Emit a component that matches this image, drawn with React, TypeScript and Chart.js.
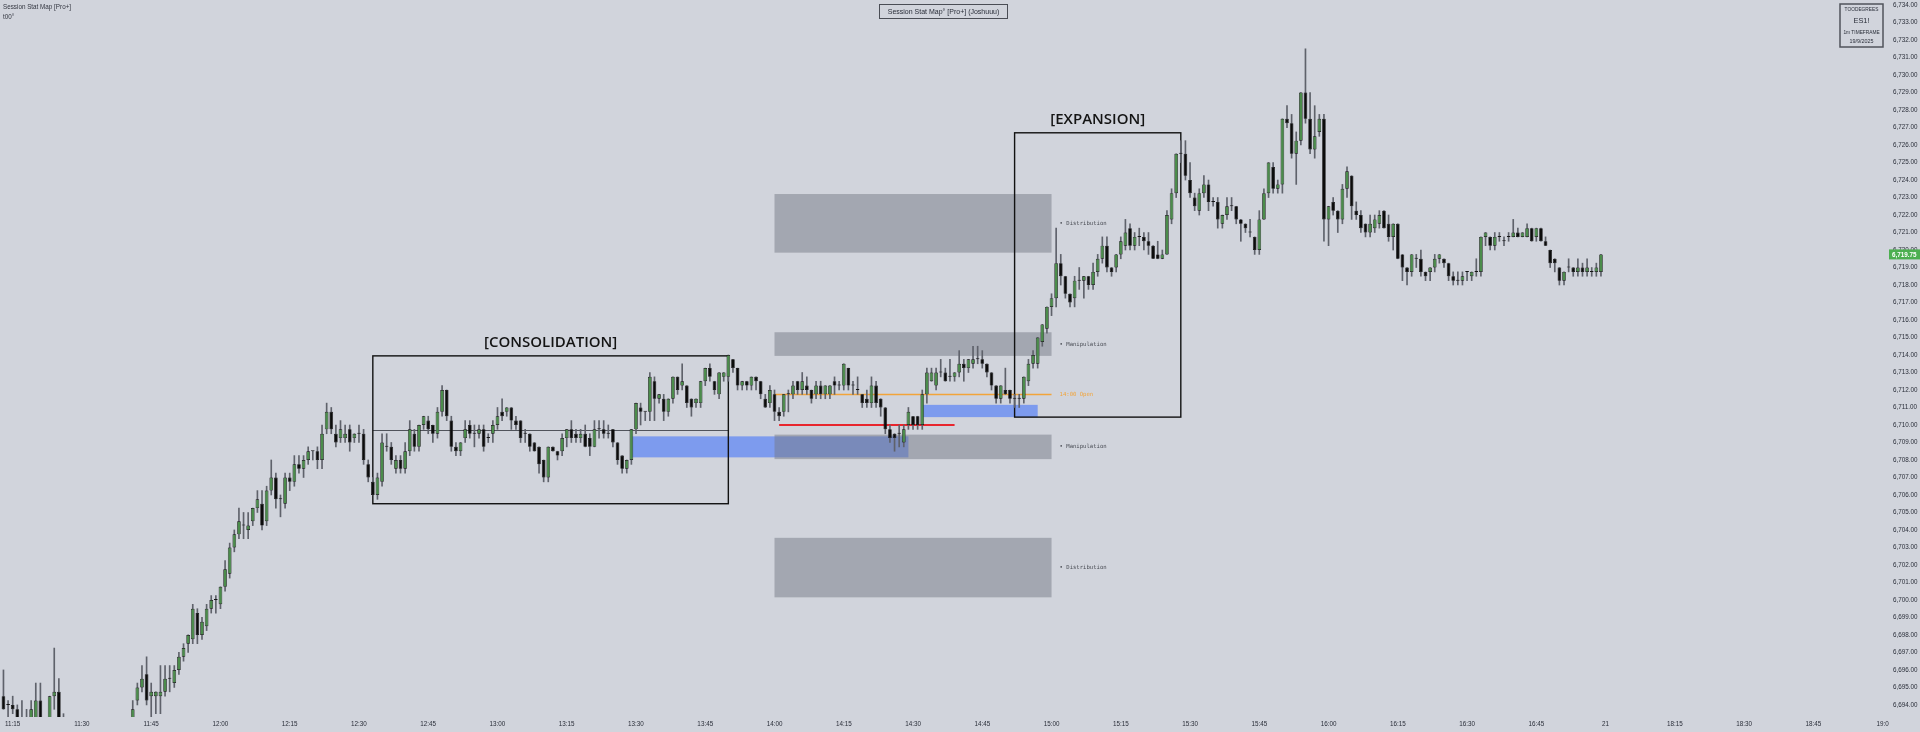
import React, { useEffect, useRef } from "react";
import { Chart, registerables } from "chart.js";

Chart.register(...registerables);

// ---------- DATA ----------
const TIMES = [
  "11:13","11:14","11:15","11:16","11:17","11:18","11:19","11:20","11:21","11:22",
  "11:23","11:24","11:25","11:26",
  "11:41","11:42","11:43","11:44","11:45","11:46","11:47","11:48","11:49","11:50",
  "11:51","11:52","11:53","11:54","11:55","11:56","11:57","11:58","11:59","12:00",
  "12:01","12:02","12:03","12:04","12:05","12:06","12:07","12:08","12:09","12:10",
  "12:11","12:12","12:13","12:14","12:15","12:16","12:17","12:18","12:19","12:20",
  "12:21","12:22","12:23","12:24","12:25","12:26","12:27","12:28","12:29","12:30",
  "12:31","12:32","12:33","12:34","12:35","12:36","12:37","12:38","12:39","12:40",
  "12:41","12:42","12:43","12:44","12:45","12:46","12:47","12:48","12:49","12:50",
  "12:51","12:52","12:53","12:54","12:55","12:56","12:57","12:58","12:59","13:00",
  "13:01","13:02","13:03","13:04","13:05","13:06","13:07","13:08","13:09","13:10",
  "13:11","13:12","13:13","13:14","13:15","13:16","13:17","13:18","13:19","13:20",
  "13:21","13:22","13:23","13:24","13:25","13:26","13:27","13:28","13:29","13:30",
  "13:31","13:32","13:33","13:34","13:35","13:36","13:37","13:38","13:39","13:40",
  "13:41","13:42","13:43","13:44","13:45","13:46","13:47","13:48","13:49","13:50",
  "13:51","13:52","13:53","13:54","13:55","13:56","13:57","13:58","13:59","14:00",
  "14:01","14:02","14:03","14:04","14:05","14:06","14:07","14:08","14:09","14:10",
  "14:11","14:12","14:13","14:14","14:15","14:16","14:17","14:18","14:19","14:20",
  "14:21","14:22","14:23","14:24","14:25","14:26","14:27","14:28","14:29","14:30",
  "14:31","14:32","14:33","14:34","14:35","14:36","14:37","14:38","14:39","14:40",
  "14:41","14:42","14:43","14:44","14:45","14:46","14:47","14:48","14:49","14:50",
  "14:51","14:52","14:53","14:54","14:55","14:56","14:57","14:58","14:59","15:00",
  "15:01","15:02","15:03","15:04","15:05","15:06","15:07","15:08","15:09","15:10",
  "15:11","15:12","15:13","15:14","15:15","15:16","15:17","15:18","15:19","15:20",
  "15:21","15:22","15:23","15:24","15:25","15:26","15:27","15:28","15:29","15:30",
  "15:31","15:32","15:33","15:34","15:35","15:36","15:37","15:38","15:39","15:40",
  "15:41","15:42","15:43","15:44","15:45","15:46","15:47","15:48","15:49","15:50",
  "15:51","15:52","15:53","15:54","15:55","15:56","15:57","15:58","15:59","16:00",
  "16:01","16:02","16:03","16:04","16:05","16:06","16:07","16:08","16:09","16:10",
  "16:11","16:12","16:13","16:14","16:15","16:16","16:17","16:18","16:19","16:20",
  "16:21","16:22","16:23","16:24","16:25","16:26","16:27","16:28","16:29","16:30",
  "16:31","16:32","16:33","16:34","16:35","16:36","16:37","16:38","16:39","16:40",
  "16:41","16:42","16:43","16:44","16:45","16:46","16:47","16:48","16:49","16:50",
  "16:51","16:52","16:53","16:54","16:55","16:56","16:57","16:58","16:59",
];

const OPEN = [
  6694.5,6694.0,6694.0,6693.75,6692.75,6692.5,6692.75,6693.0,6694.25,6693.0,
  6693.0,6694.5,6694.75,6692.75,
  6693.0,6694.25,6695.0,6695.75,6694.5,6694.5,6694.5,6694.75,6695.5,6695.25,
  6696.0,6696.75,6697.5,6697.75,6699.25,6698.0,6698.5,6699.5,6700.0,6699.75,
  6700.75,6701.5,6703.0,6703.75,6704.25,6704.0,6704.5,6705.25,6705.5,6704.5,
  6706.25,6707.0,6705.75,6705.5,6707.0,6706.75,6707.75,6707.5,6708.0,6708.5,
  6708.5,6708.0,6709.75,6710.75,6709.5,6709.25,6709.25,6709.75,6709.25,6709.5,
  6709.5,6707.75,6706.75,6706.0,6706.75,6708.75,6708.75,6707.5,6708.0,6707.5,
  6708.5,6709.5,6708.75,6710.0,6710.25,6710.0,6709.5,6710.75,6712.0,6710.25,
  6708.75,6708.5,6709.25,6710.0,6709.5,6709.5,6709.75,6709.25,6709.5,6710.0,
  6710.75,6710.75,6711.0,6710.25,6710.25,6709.5,6709.5,6709.0,6708.75,6708.0,
  6707.0,6708.75,6708.5,6708.5,6709.25,6709.75,6709.5,6709.25,6709.5,6709.25,
  6708.75,6709.75,6709.75,6709.5,6709.75,6709.0,6708.25,6707.5,6708.0,6709.75,
  6711.0,6710.75,6710.75,6712.5,6711.5,6711.5,6710.75,6711.5,6712.75,6712.25,
  6712.25,6711.5,6711.25,6711.25,6712.5,6713.25,6712.5,6711.75,6712.75,6712.75,
  6713.75,6713.25,6712.25,6712.5,6712.25,6712.75,6712.5,6711.5,6711.25,6711.75,
  6710.75,6710.75,6711.75,6711.75,6712.5,6712.0,6712.25,6712.0,6711.75,6712.25,
  6711.75,6711.75,6712.5,6712.25,6712.25,6713.25,6712.25,6712.0,6711.75,6711.5,
  6711.25,6712.25,6711.5,6711.0,6709.75,6709.5,6709.5,6709.0,6710.0,6710.5,
  6710.5,6710.0,6711.75,6712.5,6712.25,6713.0,6713.0,6712.75,6712.75,6713.0,
  6713.5,6713.25,6713.5,6713.75,6713.75,6713.5,6713.0,6712.25,6711.5,6712.0,
  6712.0,6711.5,6711.5,6711.5,6712.5,6713.5,6713.5,6714.75,6715.5,6716.75,
  6717.25,6719.25,6718.5,6717.5,6717.25,6718.25,6718.25,6718.5,6718.0,6718.75,
  6719.5,6720.25,6719.0,6719.0,6719.75,6720.25,6721.25,6720.25,6720.75,6720.75,
  6720.5,6720.25,6719.75,6719.5,6719.75,6721.75,6723.25,6725.5,6725.5,6724.0,
  6723.0,6722.25,6723.25,6723.75,6722.75,6722.75,6721.5,6722.0,6722.5,6722.5,
  6721.75,6721.5,6721.0,6720.75,6720.0,6721.75,6723.25,6724.75,6723.5,6723.75,
  6727.5,6727.25,6725.5,6726.25,6729.0,6727.5,6725.75,6726.75,6727.5,6721.75,
  6722.75,6722.25,6721.75,6723.5,6724.25,6722.25,6722.0,6721.5,6721.0,6721.25,
  6721.5,6722.25,6721.5,6720.75,6721.5,6719.75,6719.0,6718.75,6719.5,6719.5,
  6718.75,6718.75,6719.0,6719.5,6719.5,6719.25,6718.5,6718.25,6718.25,6718.75,
  6718.5,6718.75,6718.75,6720.75,6720.75,6720.25,6720.75,6720.5,6720.75,6720.75,
  6721.0,6720.75,6720.75,6721.25,6720.75,6721.25,6720.5,6720.0,6719.5,6719.0,
  6718.25,6719.0,6719.0,6718.75,6719.0,6718.75,6718.75,6718.75,6718.75,
];

const HIGH = [
  6696.0,6694.25,6694.5,6694.0,6694.25,6693.75,6694.25,6695.25,6695.25,6693.25,
  6694.5,6697.25,6695.5,6693.5,
  6694.25,6695.25,6696.25,6696.75,6695.25,6694.75,6696.25,6696.25,6696.25,6696.25,
  6697.0,6697.5,6698.0,6699.75,6699.5,6699.0,6699.75,6700.25,6700.25,6700.75,
  6702.25,6703.25,6704.0,6705.25,6705.0,6705.0,6705.25,6706.25,6706.25,6706.5,
  6708.0,6707.25,6706.0,6707.25,6707.25,6708.25,6708.25,6708.25,6708.75,6708.5,
  6708.75,6710.0,6711.25,6711.0,6710.0,6710.25,6710.0,6710.0,6709.5,6710.0,
  6709.75,6708.0,6707.0,6707.25,6709.5,6709.5,6709.0,6708.25,6708.25,6709.0,
  6710.25,6709.75,6710.0,6710.5,6710.5,6710.0,6711.0,6712.25,6712.0,6710.5,
  6709.0,6709.0,6710.25,6710.25,6710.0,6710.0,6710.0,6709.5,6710.25,6711.0,
  6711.5,6711.0,6711.0,6710.5,6710.25,6709.75,6709.5,6709.0,6708.75,6708.0,
  6708.75,6708.75,6708.5,6709.5,6709.75,6710.25,6709.75,6709.75,6710.0,6709.5,
  6710.25,6710.25,6710.25,6710.0,6709.75,6709.0,6708.25,6708.0,6709.75,6711.25,
  6711.25,6710.75,6713.0,6712.75,6711.75,6711.75,6711.5,6712.75,6712.75,6713.5,
  6712.25,6711.5,6711.5,6712.5,6713.25,6713.5,6712.5,6713.0,6713.0,6714.0,
  6713.75,6713.25,6712.5,6712.5,6712.75,6712.75,6712.5,6711.75,6712.25,6712.0,
  6711.0,6711.75,6712.0,6712.5,6712.5,6713.0,6712.75,6712.0,6712.5,6712.5,
  6712.25,6712.25,6712.75,6712.5,6713.5,6713.25,6712.5,6712.75,6711.75,6712.0,
  6712.75,6712.5,6711.5,6711.0,6710.0,6709.5,6710.0,6710.0,6711.0,6710.5,
  6710.5,6712.0,6713.25,6713.25,6713.25,6713.75,6713.25,6713.75,6713.0,6714.25,
  6713.75,6713.75,6714.5,6714.5,6714.25,6713.5,6713.0,6712.25,6712.25,6713.25,
  6712.0,6711.75,6711.75,6712.75,6713.75,6714.25,6715.0,6715.75,6716.75,6717.5,
  6721.25,6719.75,6718.5,6717.5,6718.5,6719.0,6718.5,6718.5,6719.25,6719.75,
  6720.75,6720.75,6719.0,6719.75,6720.75,6721.75,6721.5,6721.0,6721.25,6721.0,
  6721.0,6720.25,6720.5,6720.0,6722.25,6723.5,6725.5,6726.25,6726.25,6725.0,
  6723.25,6723.5,6724.25,6724.0,6723.0,6723.0,6722.0,6723.0,6723.0,6722.5,
  6721.75,6721.5,6721.75,6720.75,6722.25,6723.5,6725.0,6725.0,6724.0,6727.5,
  6728.25,6727.75,6726.75,6729.0,6731.5,6729.0,6728.25,6727.75,6727.75,6722.5,
  6723.0,6722.25,6723.75,6724.75,6724.25,6722.75,6722.25,6721.5,6722.0,6722.0,
  6722.25,6722.25,6722.0,6721.5,6721.5,6719.75,6719.0,6719.75,6719.75,6720.0,
  6718.75,6719.0,6719.75,6719.75,6719.5,6719.25,6718.75,6718.75,6718.75,6718.75,
  6718.75,6719.5,6720.75,6721.0,6720.75,6721.0,6721.0,6720.75,6721.0,6721.75,
  6721.25,6721.0,6721.5,6721.25,6721.25,6721.25,6720.75,6720.0,6719.5,6719.0,
  6718.75,6719.5,6719.0,6719.5,6719.25,6719.5,6719.0,6719.25,6719.75,
];

const LOW = [
  6693.75,6693.0,6693.5,6692.5,6692.5,6692.25,6692.5,6692.75,6692.75,6692.5,
  6692.75,6693.75,6693.0,6692.5,
  6692.75,6694.0,6694.75,6694.0,6693.25,6693.5,6693.5,6694.5,6694.75,6695.0,
  6695.75,6696.5,6697.0,6697.5,6697.5,6697.75,6698.25,6699.25,6699.25,6699.5,
  6700.5,6701.25,6702.75,6703.5,6703.5,6703.5,6704.25,6705.0,6704.0,6704.25,
  6706.0,6705.25,6704.75,6705.25,6706.25,6706.5,6707.25,6707.0,6707.75,6708.0,
  6707.5,6707.5,6709.5,6709.5,6708.75,6709.0,6709.0,6708.5,6709.0,6709.0,
  6707.75,6706.75,6706.0,6705.75,6706.5,6708.5,6707.75,6707.25,6707.25,6707.25,
  6708.25,6708.5,6708.5,6709.75,6709.5,6709.0,6709.25,6710.5,6710.25,6708.5,
  6708.25,6708.25,6709.0,6709.25,6708.75,6709.25,6708.5,6709.0,6709.0,6709.75,
  6710.25,6710.5,6709.75,6709.75,6709.0,6709.0,6708.5,6708.5,6707.25,6706.75,
  6706.75,6708.5,6708.0,6708.25,6708.75,6709.0,6709.0,6709.0,6708.75,6708.25,
  6708.75,6709.25,6709.25,6709.25,6708.75,6707.75,6707.25,6707.25,6707.75,6709.5,
  6710.0,6710.25,6710.25,6710.25,6711.25,6710.25,6710.5,6711.25,6711.75,6712.0,
  6711.0,6710.5,6711.0,6711.0,6712.25,6712.5,6711.75,6711.5,6712.5,6712.5,
  6713.0,6712.0,6712.0,6712.0,6712.0,6712.0,6711.5,6711.0,6711.0,6710.25,
  6710.25,6710.5,6710.75,6711.5,6711.75,6711.75,6711.75,6711.25,6711.5,6711.5,
  6711.5,6711.5,6711.75,6712.0,6712.0,6712.0,6711.75,6711.75,6711.0,6711.0,
  6711.0,6711.0,6710.5,6709.5,6709.0,6708.5,6708.75,6708.75,6709.75,6709.75,
  6709.75,6709.75,6711.25,6712.5,6712.0,6712.75,6712.5,6712.5,6712.5,6712.75,
  6712.5,6713.0,6713.25,6713.5,6713.25,6712.75,6712.0,6711.25,6711.25,6711.75,
  6711.25,6711.0,6711.0,6711.25,6712.25,6713.25,6713.25,6714.5,6715.25,6716.25,
  6716.75,6718.0,6717.25,6716.75,6716.75,6717.75,6717.25,6717.75,6717.75,6718.5,
  6719.25,6718.75,6718.5,6718.75,6719.5,6720.0,6720.0,6720.0,6720.25,6720.0,
  6719.75,6719.5,6719.5,6719.5,6719.75,6721.5,6723.0,6725.0,6724.0,6723.0,
  6722.25,6722.0,6723.0,6722.25,6722.5,6721.25,6721.25,6721.75,6722.25,6721.5,
  6720.5,6721.0,6720.75,6719.75,6719.75,6721.75,6723.0,6723.25,6723.25,6723.25,
  6727.0,6725.25,6723.75,6726.0,6727.25,6725.5,6725.25,6726.5,6720.5,6720.25,
  6722.0,6721.0,6721.5,6723.0,6721.75,6721.75,6721.0,6720.75,6720.75,6721.0,
  6721.25,6721.25,6720.5,6720.0,6719.5,6718.25,6718.0,6718.5,6719.0,6718.5,
  6718.25,6718.25,6718.75,6719.25,6719.0,6718.25,6718.0,6718.0,6718.0,6718.25,
  6718.25,6718.5,6718.5,6720.25,6720.0,6720.0,6720.5,6720.25,6720.5,6720.75,
  6720.75,6720.75,6720.75,6720.5,6720.5,6720.5,6720.25,6719.0,6718.75,6718.0,
  6718.0,6718.75,6718.5,6718.5,6718.5,6718.5,6718.5,6718.5,6718.5,
];

const CLOSE = [
  6693.75,6694.0,6693.75,6693.0,6693.0,6692.75,6693.75,6694.25,6693.0,6692.75,
  6694.5,6694.75,6693.25,6693.0,
  6693.75,6695.0,6695.5,6694.25,6694.75,6694.75,6694.75,6695.5,6695.5,6696.0,
  6696.75,6697.25,6698.0,6699.5,6698.0,6698.75,6699.5,6700.0,6700.0,6700.75,
  6701.75,6703.0,6703.75,6704.5,6704.25,6704.25,6705.25,6705.75,6704.25,6706.25,
  6707.0,6705.75,6705.75,6707.0,6706.75,6707.75,6707.5,6708.0,6708.5,6708.5,
  6708.0,6709.5,6710.75,6709.75,6709.0,6709.75,6709.5,6709.0,6709.5,6709.5,
  6708.0,6707.0,6706.0,6707.0,6709.0,6708.75,6708.0,6708.0,6707.5,6708.5,
  6709.75,6708.75,6710.0,6710.5,6709.75,6709.5,6710.75,6712.0,6710.5,6708.75,
  6708.5,6709.0,6709.75,6709.5,6709.5,6709.75,6708.75,6709.25,6710.0,6710.5,
  6710.5,6711.0,6710.25,6710.0,6709.25,6709.5,6708.75,6708.5,6707.75,6707.0,
  6708.75,6708.5,6708.25,6709.25,6709.75,6709.25,6709.25,6709.5,6708.75,6708.75,
  6709.75,6709.75,6709.5,6709.5,6709.0,6708.0,6707.5,6708.0,6709.75,6711.25,
  6710.75,6710.75,6712.75,6711.5,6711.75,6710.75,6711.5,6712.75,6712.0,6712.5,
  6711.25,6711.0,6711.5,6712.5,6713.25,6712.75,6712.0,6713.0,6713.0,6714.0,
  6713.25,6712.25,6712.5,6712.25,6712.75,6712.5,6711.75,6711.0,6712.0,6710.75,
  6710.5,6711.75,6711.75,6712.25,6712.0,6712.5,6712.0,6711.5,6712.25,6711.75,
  6712.25,6712.25,6712.25,6712.25,6713.5,6712.25,6712.25,6712.0,6711.25,6711.25,
  6712.25,6711.25,6711.0,6709.75,6709.25,6709.25,6709.5,6709.75,6710.75,6710.0,
  6710.0,6711.75,6713.0,6713.0,6713.0,6713.0,6712.5,6712.75,6713.0,6713.5,
  6713.25,6713.75,6713.75,6713.75,6713.5,6713.0,6712.25,6711.5,6712.25,6711.75,
  6711.5,6711.5,6711.5,6712.75,6713.5,6714.0,6715.0,6715.75,6716.75,6717.25,
  6719.25,6718.5,6717.5,6717.0,6718.25,6718.25,6718.5,6718.0,6718.75,6719.5,
  6720.25,6719.0,6718.75,6719.75,6720.5,6721.0,6720.25,6720.75,6720.75,6720.5,
  6720.25,6719.5,6719.5,6719.75,6722.0,6723.25,6725.5,6725.5,6724.25,6723.25,
  6722.5,6723.25,6723.75,6722.75,6722.75,6721.75,6722.0,6722.5,6722.5,6721.75,
  6721.5,6721.25,6721.0,6720.0,6721.75,6723.25,6725.0,6723.5,6723.75,6727.5,
  6727.25,6725.5,6726.25,6729.0,6727.5,6725.75,6726.5,6727.5,6721.75,6722.5,
  6722.25,6721.75,6723.5,6724.5,6722.5,6722.0,6721.25,6721.0,6721.5,6721.75,
  6722.0,6721.25,6720.75,6721.5,6719.5,6719.0,6718.75,6719.75,6719.5,6718.75,
  6718.5,6719.0,6719.5,6719.75,6719.25,6718.5,6718.25,6718.25,6718.5,6718.75,
  6718.75,6718.75,6720.75,6721.0,6720.25,6720.75,6720.75,6720.5,6720.75,6721.0,
  6720.75,6721.0,6721.25,6720.5,6721.25,6720.5,6720.25,6719.25,6719.25,6718.25,
  6718.75,6719.0,6718.75,6719.0,6718.75,6719.0,6718.75,6719.0,6719.75,
];

const TICK_TIMES = [
  "11:15","11:30","11:45","12:00","12:15","12:30","12:45","13:00","13:15","13:30",
  "13:45","14:00","14:15","14:30","14:45","15:00","15:15","15:30","15:45","16:00",
  "16:15","16:30","16:45","18:00","18:15","18:30","18:45","19:00",
];
const TICK_LABELS = [
  "11:15","11:30","11:45","12:00","12:15","12:30","12:45","13:00","13:15","13:30",
  "13:45","14:00","14:15","14:30","14:45","15:00","15:15","15:30","15:45","16:00",
  "16:15","16:30","16:45","21","18:15","18:30","18:45","19:0",
];
const PRICE_TICK_FIRST = 6694;
const PRICE_TICK_LAST = 6734;
const LAST_PRICE = 6719.75;

// session zones
const ZONE_FROM = ["14:00", "14:00", "14:00", "14:00"];
const ZONE_TO = ["15:00", "15:00", "15:00", "15:00"];
const ZONE_TOP = [6723.2, 6715.3, 6709.45, 6703.55];
const ZONE_BOTTOM = [6719.85, 6713.95, 6708.05, 6700.15];
const ZONE_LABELS = ["• Distribution", "• Manipulation", "• Manipulation", "• Distribution"];

// imbalance (blue) zones
const GAP_FROM = ["13:29", "14:32"];
const GAP_TO = ["14:29", "14:57"];
const GAP_TOP = [6709.35, 6711.15];
const GAP_BOTTOM = [6708.15, 6710.45];

const OPEN_LINE = { from: "14:00", to: "15:00", price: 6711.75, label: "14:00 Open" };
const RED_LINE = { from: "14:01", to: "14:39", price: 6710.0 };

const CONSOL = { from: "12:33", to: "13:50", top: 6713.95, bottom: 6705.5, mid: 6709.7, label: "[CONSOLIDATION]", labelPrice: 6714.7 };
const EXPAN = { from: "14:52", to: "15:28", top: 6726.7, bottom: 6710.45, label: "[EXPANSION]", labelPrice: 6727.45 };

// ---------- STYLE ----------
const BG = "#d1d4dc";
const UP = "#4b8c4b";
const DOWN = "#0c0c0c";
const WICK = "#5f626b";
const AXIS_TEXT = "#2a2e39";
const SANS = '"Liberation Sans", Arial, sans-serif';
const MONO = '"DejaVu Sans Mono", monospace';

const BASE_MIN = 11 * 60 + 15;
function idx(time: string): number {
  const [h, m] = time.split(":").map(Number);
  let mins = h * 60 + m;
  if (h >= 18) mins -= 60; // 17:00-18:00 halt is not shown on the axis
  return mins - BASE_MIN;
}

const fmtPrice = (v: number) =>
  v.toLocaleString("en-US", { minimumFractionDigits: 2, maximumFractionDigits: 2 });

const drawPlugin = {
  id: "sessionStatMap",
  beforeDraw(chart: any) {
    const ctx = chart.ctx;
    ctx.save();
    ctx.fillStyle = BG;
    ctx.fillRect(0, 0, chart.width, chart.height);
    ctx.restore();
  },
  beforeDatasetsDraw(chart: any) {
    const { ctx, chartArea: ca, scales } = chart;
    const xs = scales.x;
    const ys = scales.y;
    const X = (t: string) => xs.getPixelForValue(idx(t));
    const Y = (p: number) => ys.getPixelForValue(p);
    ctx.save();
    ctx.beginPath();
    ctx.rect(ca.left, ca.top, ca.right - ca.left, ca.bottom - ca.top);
    ctx.clip();

    ctx.fillStyle = "rgba(41, 98, 255, 0.5)";
    for (let i = 0; i < GAP_FROM.length; i++) {
      const x0 = X(GAP_FROM[i]), x1 = X(GAP_TO[i]);
      const y0 = Y(GAP_TOP[i]), y1 = Y(GAP_BOTTOM[i]);
      ctx.fillRect(x0, y0, x1 - x0, y1 - y0);
    }
    ctx.fillStyle = "rgba(118, 121, 133, 0.5)";
    for (let i = 0; i < ZONE_FROM.length; i++) {
      const x0 = X(ZONE_FROM[i]), x1 = X(ZONE_TO[i]);
      const y0 = Y(ZONE_TOP[i]), y1 = Y(ZONE_BOTTOM[i]);
      ctx.fillRect(x0, y0, x1 - x0, y1 - y0);
    }
    ctx.font = `5.6px ${MONO}`;
    ctx.textAlign = "left";
    ctx.textBaseline = "middle";
    ctx.fillStyle = "#4a4d55";
    for (let i = 0; i < ZONE_FROM.length; i++) {
      const xl = X(ZONE_TO[i]) + 8;
      ctx.fillText(ZONE_LABELS[i], xl, Y((ZONE_TOP[i] + ZONE_BOTTOM[i]) / 2));
    }

    ctx.strokeStyle = "#f2a43a";
    ctx.lineWidth = 1.3;
    ctx.beginPath();
    const oy = Math.round(Y(OPEN_LINE.price)) + 0.5;
    ctx.moveTo(X(OPEN_LINE.from), oy);
    ctx.lineTo(X(OPEN_LINE.to), oy);
    ctx.stroke();
    ctx.fillStyle = "#f2a43a";
    ctx.fillText(OPEN_LINE.label, X(OPEN_LINE.to) + 8, oy);

    ctx.strokeStyle = "#e8262e";
    ctx.lineWidth = 2;
    ctx.beginPath();
    const ry = Math.round(Y(RED_LINE.price));
    ctx.moveTo(X(RED_LINE.from), ry);
    ctx.lineTo(X(RED_LINE.to), ry);
    ctx.stroke();

    ctx.strokeStyle = "#50535b";
    ctx.lineWidth = 1;
    ctx.beginPath();
    const my = Math.round(Y(CONSOL.mid)) + 0.5;
    ctx.moveTo(X(CONSOL.from), my);
    ctx.lineTo(X(CONSOL.to), my);
    ctx.stroke();

    ctx.strokeStyle = "#121212";
    ctx.lineWidth = 1.4;
    for (const b of [CONSOL, EXPAN]) {
      const x0 = X(b.from), x1 = X(b.to);
      const y0 = Y(b.top), y1 = Y(b.bottom);
      ctx.strokeRect(x0, y0, x1 - x0, y1 - y0);
    }
    ctx.fillStyle = "#141414";
    ctx.font = `600 15px "Open Sans", ${SANS}`;
    ctx.textAlign = "center";
    ctx.textBaseline = "middle";
    for (const b of [CONSOL, EXPAN]) {
      ctx.fillText(b.label, (X(b.from) + X(b.to)) / 2, Y(b.labelPrice));
    }
    ctx.restore();
  },
  afterDraw(chart: any) {
    const { ctx, scales } = chart;
    const ys = scales.y;
    ctx.save();
    ctx.fillStyle = "#333640";
    ctx.textAlign = "left";
    ctx.textBaseline = "middle";
    ctx.font = `6.3px ${SANS}`;
    ctx.fillText("Session Stat Map [Pro+]", 3, 7);
    ctx.fillText("t00°", 3, 17);

    ctx.strokeStyle = "#4a4d55";
    ctx.lineWidth = 1;
    ctx.strokeRect(879.5, 4.5, 128, 14);
    ctx.font = `7px ${SANS}`;
    ctx.textAlign = "center";
    ctx.fillStyle = "#2a2e39";
    ctx.fillText("Session Stat Map° [Pro+] (Joshuuu)", 943.5, 12);

    ctx.strokeStyle = "#50535b";
    ctx.lineWidth = 1.5;
    ctx.strokeRect(1840, 4, 43, 43);
    ctx.fillStyle = "#2a2e39";
    ctx.font = `4.8px ${SANS}`;
    ctx.fillText("TOODEGREES", 1861.5, 10);
    ctx.font = `7.4px ${SANS}`;
    ctx.fillText("ES1!", 1861.5, 21);
    ctx.font = `4.8px ${SANS}`;
    ctx.fillText("1m TIMEFRAME", 1861.5, 33);
    ctx.font = `5.4px ${SANS}`;
    ctx.fillText("19/9/2025", 1861.5, 42);

    const py = ys.getPixelForValue(LAST_PRICE);
    ctx.fillStyle = "#4caf50";
    ctx.fillRect(1889, py - 5, 31, 10);
    ctx.fillStyle = "#ffffff";
    ctx.font = `bold 6.3px ${SANS}`;
    ctx.textAlign = "left";
    ctx.fillText(fmtPrice(LAST_PRICE), 1892, py + 0.5);
    ctx.restore();
  },
};

export default function App() {
  const ref = useRef<HTMLCanvasElement | null>(null);

  useEffect(() => {
    document.body.style.margin = "0";
    document.body.style.background = BG;
    const n = Math.min(TIMES.length, OPEN.length, HIGH.length, LOW.length, CLOSE.length);
    const wicks: any[] = [];
    const bodies: any[] = [];
    const colors: string[] = [];
    for (let i = 0; i < n; i++) {
      const x = idx(TIMES[i]);
      wicks.push({ x, y: [LOW[i], HIGH[i]] });
      bodies.push({ x, y: [OPEN[i], CLOSE[i]] });
      colors.push(CLOSE[i] > OPEN[i] ? UP : DOWN);
    }
    const yTicks: number[] = [];
    for (let v = PRICE_TICK_FIRST; v <= PRICE_TICK_LAST; v++) yTicks.push(v);
    const xTicks = TICK_TIMES.map(idx);

    const chart = new Chart(ref.current as HTMLCanvasElement, {
      type: "bar",
      data: {
        datasets: [
          {
            label: "wick",
            data: wicks,
            backgroundColor: WICK,
            borderWidth: 0,
            grouped: false,
            barPercentage: 1,
            categoryPercentage: 1,
            maxBarThickness: 1,
            order: 2,
          } as any,
          {
            label: "body",
            data: bodies,
            backgroundColor: colors,
            borderColor: "#151515",
            borderWidth: 0.7,
            borderSkipped: false,
            grouped: false,
            barPercentage: 0.8,
            categoryPercentage: 1,
            minBarLength: 1,
            order: 1,
          } as any,
        ],
      },
      options: {
        animation: false,
        responsive: true,
        maintainAspectRatio: false,
        events: [],
        layout: { padding: 0 },
        plugins: { legend: { display: false }, tooltip: { enabled: false } },
        scales: {
          x: {
            type: "linear",
            min: -2.75,
            max: 406.17,
            offset: false,
            grid: { display: false, drawTicks: false },
            border: { display: false },
            afterBuildTicks: (scale: any) => {
              scale.ticks = xTicks.map((v) => ({ value: v }));
            },
            afterFit: (scale: any) => {
              scale.height = 15;
              scale.paddingLeft = 0;
              scale.paddingRight = 0;
            },
            ticks: {
              autoSkip: false,
              maxRotation: 0,
              minRotation: 0,
              padding: 3,
              color: AXIS_TEXT,
              font: { family: SANS, size: 6.3 },
              callback: (_v: any, i: number) => TICK_LABELS[i],
            },
          },
          y: {
            type: "linear",
            position: "right",
            min: 6693.31,
            max: 6734.29,
            grid: { display: false, drawTicks: false },
            border: { display: false },
            afterBuildTicks: (scale: any) => {
              scale.ticks = yTicks.map((v) => ({ value: v }));
            },
            afterFit: (scale: any) => {
              scale.width = 32;
              scale.paddingTop = 0;
              scale.paddingBottom = 0;
            },
            ticks: {
              padding: 5,
              color: AXIS_TEXT,
              font: { family: SANS, size: 6.3 },
              callback: (v: any) => fmtPrice(Number(v)),
            },
          },
        },
      } as any,
      plugins: [drawPlugin as any],
    });
    return () => chart.destroy();
  }, []);

  return (
    <div style={{ position: "fixed", left: 0, top: 0, width: 1920, height: 732, background: BG }}>
      <canvas ref={ref} />
    </div>
  );
}
